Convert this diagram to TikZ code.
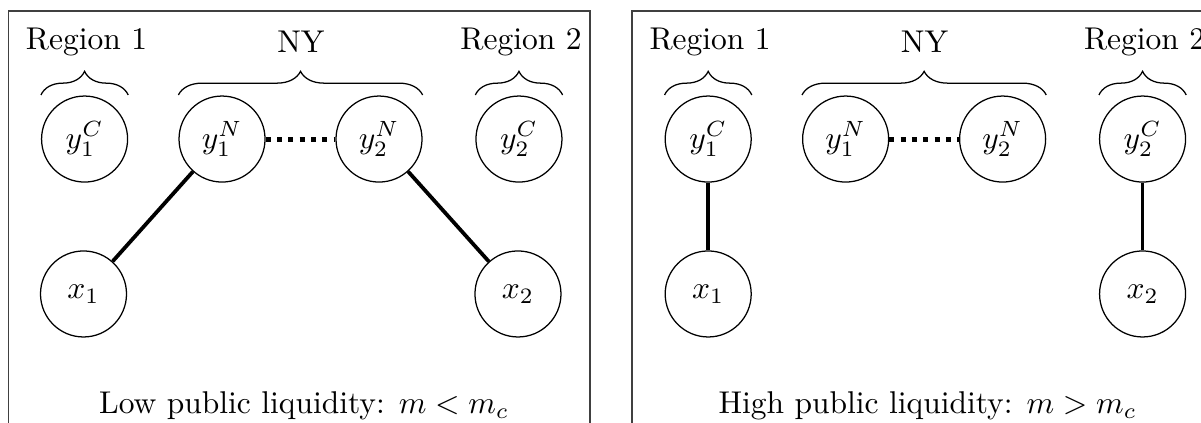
\documentclass[tikz,border=0pt]{standalone}
\usetikzlibrary{decorations.pathreplacing}

\tikzset{
    var/.style={circle, draw=black, thin, minimum size=0.96cm, inner sep=1pt},
    link/.style={very thick},
    nylink/.style={ultra thick, dotted},
    grp/.style={decorate, decoration={brace, amplitude=7.5pt}},
    panel/.style={draw=black!75, thin}
}

\begin{document}
\begin{tikzpicture}
                \useasboundingbox (0,0) rectangle (13.404,4.71);
                \clip (0,0) rectangle (13.404,4.71);
                
                % low public liquidity
                \draw[panel] (0.095,-0.5) -- (0.095,4.587) -- (6.585,4.587) -- (6.585,-0.5);
                
                \node [var] (LyC1) at (0.944,3.158) {$y_1^C$};
                \node [var] (LyN1) at (2.478,3.158) {$y_1^N$};
                \node [var] (LyN2) at (4.230,3.158) {$y_2^N$};
                \node [var] (LyC2) at (5.792,3.158) {$y_2^C$};
                \node [var] (Lx1) at (0.932,1.429) {$x_1$};
                \node [var] (Lx2) at (5.781,1.429) {$x_2$};
                
                \draw[grp] (LyC1.west |- 0,3.65) -- (LyC1.east |- 0,3.65);
                \draw[grp] (LyN1.west |- 0,3.65) -- (LyN2.east |- 0,3.65);
                \draw[grp] (LyC2.west |- 0,3.65) -- (LyC2.east |- 0,3.65);
                
                \node (Lreg1) at (0.965,4.241) {Region 1};
                \node (Lny) at (3.359,4.241) {NY};
                \node (Lreg2) at (5.815,4.241) {Region 2};
                
                \draw[nylink] (LyN1) -- (LyN2);
                \draw[link] (LyN1) -- (Lx1);
                \draw[link] (LyN2) -- (Lx2);
                
                \node (Lcap) at (3.393,0.179) {Low public liquidity: $m<m_c$};
                
                % high public liquidity
                \draw[panel] (7.054,-0.5) -- (7.054,4.587) -- (13.545,4.587) -- (13.545,-0.5);
                
                \node [var] (RyC1) at (7.904,3.158) {$y_1^C$};
                \node [var] (RyN1) at (9.438,3.158) {$y_1^N$};
                \node [var] (RyN2) at (11.190,3.158) {$y_2^N$};
                \node [var] (RyC2) at (12.752,3.158) {$y_2^C$};
                \node [var] (Rx1) at (7.904,1.429) {$x_1$};
                \node [var] (Rx2) at (12.752,1.429) {$x_2$};
                
                \draw[grp] (RyC1.west |- 0,3.65) -- (RyC1.east |- 0,3.65);
                \draw[grp] (RyN1.west |- 0,3.65) -- (RyN2.east |- 0,3.65);
                \draw[grp] (RyC2.west |- 0,3.65) -- (RyC2.east |- 0,3.65);
                
                \node (Rreg1) at (7.925,4.241) {Region 1};
                \node (Rny) at (10.319,4.241) {NY};
                \node (Rreg2) at (12.775,4.241) {Region 2};
                
                \draw[nylink] (RyN1) -- (RyN2);
                \draw[link] (RyC1) -- (Rx1);
                \draw[link] (RyC2) -- (Rx2);
                
                \node (Rcap) at (10.353,0.179) {High public liquidity: $m>m_c$};
            \end{tikzpicture}
\end{document}
